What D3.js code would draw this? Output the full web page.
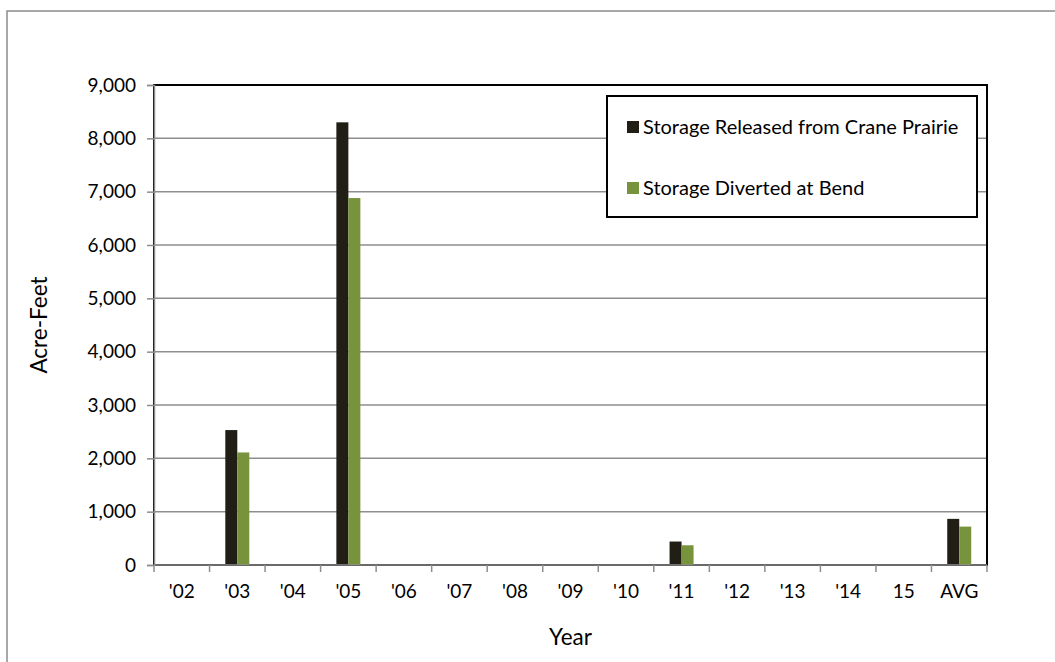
<!DOCTYPE html>
<html>
<head>
<meta charset="utf-8">
<script src="https://cdn.jsdelivr.net/npm/d3@7"></script>
<style>
  html, body { margin: 0; padding: 0; background: #fff; }
  svg { display: block; font-family: Lato, "Open Sans", sans-serif; }
</style>
</head>
<body>
<svg id="chart" width="1055" height="662"></svg>
<script>
// Storage released vs. diverted, by water year (acre-feet)
const years = ["'02", "'03", "'04", "'05", "'06", "'07", "'08", "'09", "'10", "'11", "'12", "'13", "'14", "15", "AVG"];
const released = [0, 2530, 0, 8300, 0, 0, 0, 0, 0, 440, 0, 0, 0, 0, 865];
const diverted = [0, 2110, 0, 6880, 0, 0, 0, 0, 0, 370, 0, 0, 0, 0, 720];
const seriesNames = ["Storage Released from Crane Prairie", "Storage Diverted at Bend"];
const seriesColors = ["#211f15", "#77933c"];
const yTicks = [0, 1000, 2000, 3000, 4000, 5000, 6000, 7000, 8000, 9000];

const svg = d3.select("#chart");
const plot = { left: 154, right: 987, top: 85, bottom: 565 };
const labelSize = 19;
const legendSize = 20;
const titleSize = 22.5;

// outer chart frame
svg.append("rect")
  .attr("x", 7).attr("y", 11)
  .attr("width", 1100).attr("height", 700)
  .attr("fill", "none").attr("stroke", "#8c8c8c").attr("stroke-width", 1.5);

const x = d3.scaleBand().domain(years).range([plot.left, plot.right]);
const y = d3.scaleLinear().domain([0, 9000]).range([plot.bottom, plot.top]);

// gridlines
svg.append("g")
  .selectAll("line").data(yTicks.filter(d => d > 0 && d < 9000)).join("line")
  .attr("x1", plot.left).attr("x2", plot.right)
  .attr("y1", d => y(d)).attr("y2", d => y(d))
  .attr("stroke", "#8e8e8e").attr("stroke-width", 1.5);

// plot area frame
svg.append("rect")
  .attr("x", plot.left).attr("y", plot.top)
  .attr("width", plot.right - plot.left).attr("height", plot.bottom - plot.top)
  .attr("fill", "none").attr("stroke", "#000").attr("stroke-width", 2);

// bars
const barW = 12;
const grp = svg.append("g");
[released, diverted].forEach((vals, si) => {
  grp.append("g").selectAll("rect").data(vals.map((v, i) => ({ cat: years[i], v }))).join("rect")
    .attr("x", d => x(d.cat) + x.bandwidth() / 2 - barW + si * barW)
    .attr("width", barW)
    .attr("y", d => y(d.v))
    .attr("height", d => y(0) - y(d.v))
    .attr("fill", seriesColors[si]);
});

// y axis
const yAxis = svg.append("g")
  .attr("transform", `translate(${plot.left},0)`)
  .call(d3.axisLeft(y).tickValues(yTicks).tickFormat(d3.format(",")).tickSize(7).tickPadding(11));
yAxis.select(".domain").attr("stroke", "#8e8e8e").attr("stroke-width", 1.5);
yAxis.selectAll(".tick line").attr("stroke", "#8e8e8e").attr("stroke-width", 1.5);
yAxis.selectAll(".tick text").attr("font-size", labelSize).attr("fill", "#000")
  .attr("font-family", "Lato, sans-serif");

// x axis: ticks at category boundaries
const xAxis = svg.append("g").attr("transform", `translate(0,${plot.bottom})`);
xAxis.append("line")
  .attr("x1", plot.left).attr("x2", plot.right)
  .attr("stroke", "#8e8e8e").attr("stroke-width", 1.5);
const bounds = years.map(d => x(d)).concat([plot.right]);
xAxis.selectAll("line.tk").data(bounds).join("line")
  .attr("class", "tk")
  .attr("x1", d => d).attr("x2", d => d)
  .attr("y1", 0).attr("y2", 7)
  .attr("stroke", "#8e8e8e").attr("stroke-width", 1.5);
xAxis.selectAll("text").data(years).join("text")
  .attr("x", d => x(d) + x.bandwidth() / 2)
  .attr("y", 33)
  .attr("text-anchor", "middle")
  .attr("font-size", labelSize)
  .text(d => d);

// axis titles
svg.append("text")
  .attr("transform", `translate(47,${(plot.top + plot.bottom) / 2}) rotate(-90)`)
  .attr("text-anchor", "middle")
  .attr("font-size", titleSize)
  .text("Acre-Feet");
svg.append("text")
  .attr("x", (plot.left + plot.right) / 2)
  .attr("y", 645)
  .attr("text-anchor", "middle")
  .attr("font-size", titleSize)
  .text("Year");

// legend
const legend = svg.append("g");
legend.append("rect")
  .attr("x", 607).attr("y", 96).attr("width", 370).attr("height", 121)
  .attr("fill", "#fff").attr("stroke", "#000").attr("stroke-width", 2);
const items = legend.selectAll("g.item").data(seriesNames).join("g")
  .attr("class", "item")
  .attr("transform", (d, i) => `translate(627,${127 + i * 61})`);
items.append("rect")
  .attr("x", 0).attr("y", -6).attr("width", 12).attr("height", 12)
  .attr("fill", (d, i) => seriesColors[i]);
items.append("text")
  .attr("x", 16).attr("y", 7)
  .attr("font-size", legendSize)
  .text(d => d);
</script>
</body>
</html>
